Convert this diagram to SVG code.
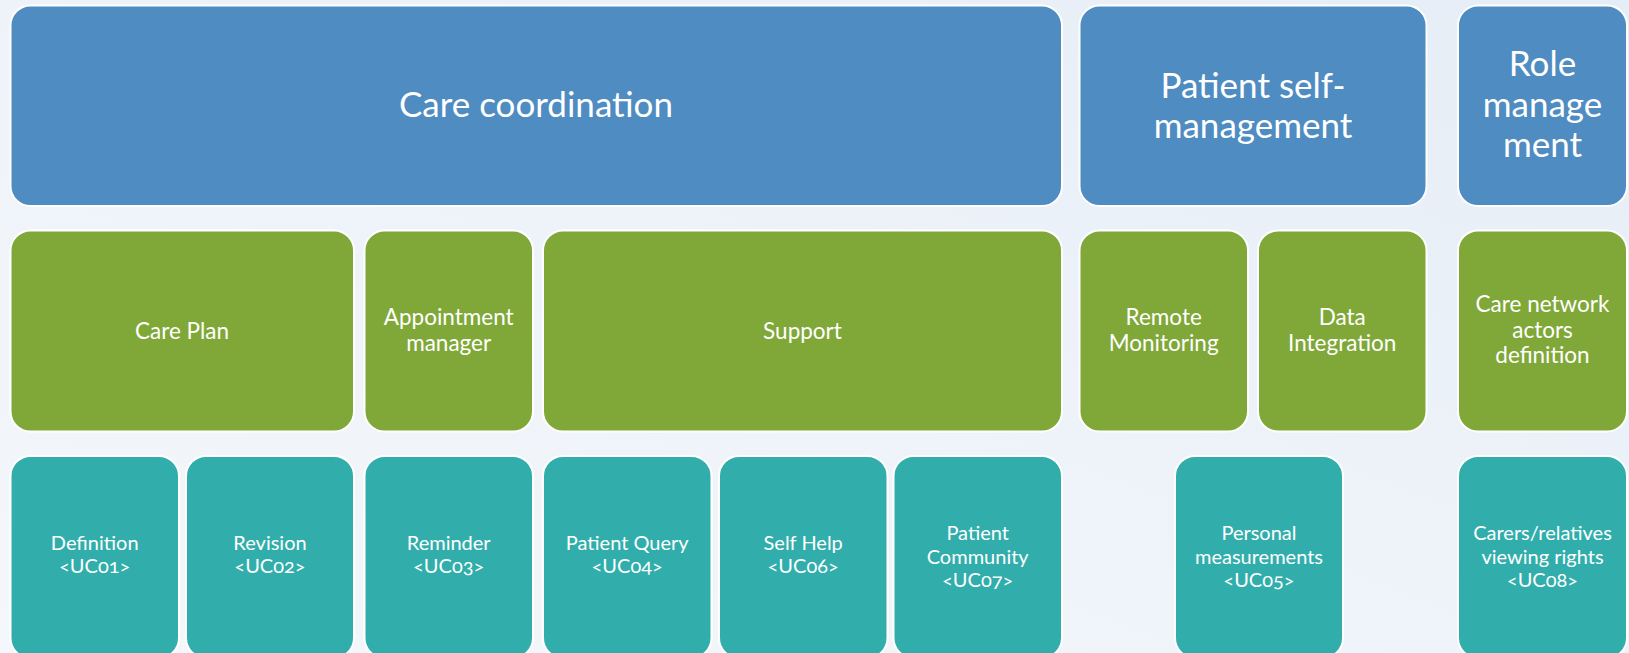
<svg xmlns="http://www.w3.org/2000/svg" width="1629" height="653" viewBox="0 0 1629 653">
<defs>
<linearGradient id="bg" x1="0" y1="1" x2="1" y2="0">
<stop offset="0" stop-color="#f4f7fb"/>
<stop offset="0.5" stop-color="#eef3f9"/>
<stop offset="1" stop-color="#e5edf6"/>
</linearGradient>
<style>
.box{stroke:#ffffff;stroke-width:2}
.blue{fill:#4f8cc1}
.green{fill:#7fa839}
.teal{fill:#31aeab}
text{font-family:Lato,"Open Sans","Liberation Sans",sans-serif;fill:#ffffff;text-anchor:middle;font-variant-numeric:oldstyle-nums}
.t1{font-size:35px}
.t2{font-size:22.5px}
.t3{font-size:20px}
</style>
</defs>
<rect x="0" y="0" width="1629" height="653" fill="url(#bg)"/>

<g id="care-coordination"><rect class="box blue" x="10.5" y="5.5" width="1051.5" height="200.5" rx="20"/><text class="t1" x="536" y="116.5">Care coordination</text></g>
<g id="patient-self-management"><rect class="box blue" x="1079.5" y="5.5" width="347" height="200.5" rx="20"/><text class="t1" x="1253" y="97.5">Patient self-</text><text class="t1" x="1253" y="137.5">management</text></g>
<g id="role-management"><rect class="box blue" x="1458" y="5.5" width="169" height="200.5" rx="20"/><text class="t1" x="1542.5" y="76">Role</text><text class="t1" x="1542.5" y="116.5">manage</text><text class="t1" x="1542.5" y="157">ment</text></g>

<g id="care-plan"><rect class="box green" x="10.5" y="230.5" width="343.5" height="201" rx="20"/><text class="t2" x="182" y="338.5">Care Plan</text></g>
<g id="appointment-manager"><rect class="box green" x="364.5" y="230.5" width="168.5" height="201" rx="20"/><text class="t2" x="448.7" y="325">Appointment</text><text class="t2" x="448.7" y="351">manager</text></g>
<g id="support"><rect class="box green" x="543" y="230.5" width="519" height="201" rx="20"/><text class="t2" x="802.5" y="338.5">Support</text></g>
<g id="remote-monitoring"><rect class="box green" x="1079.5" y="230.5" width="168.5" height="201" rx="20"/><text class="t2" x="1163.7" y="325">Remote</text><text class="t2" x="1163.7" y="351">Monitoring</text></g>
<g id="data-integration"><rect class="box green" x="1258" y="230.5" width="168.5" height="201" rx="20"/><text class="t2" x="1342.2" y="325">Data</text><text class="t2" x="1342.2" y="351">Integration</text></g>
<g id="care-network"><rect class="box green" x="1458" y="230.5" width="169" height="201" rx="20"/><text class="t2" x="1542.5" y="312">Care network</text><text class="t2" x="1542.5" y="337.5">actors</text><text class="t2" x="1542.5" y="363">definition</text></g>

<g id="uc01"><rect class="box teal" x="10.5" y="456" width="168.5" height="202" rx="20"/><text class="t3" x="94.7" y="549.5">Definition</text><text class="t3" x="94.7" y="573">&lt;UC01&gt;</text></g>
<g id="uc02"><rect class="box teal" x="186" y="456" width="168" height="202" rx="20"/><text class="t3" x="270" y="549.5">Revision</text><text class="t3" x="270" y="573">&lt;UC02&gt;</text></g>
<g id="uc03"><rect class="box teal" x="364.5" y="456" width="168.5" height="202" rx="20"/><text class="t3" x="448.7" y="549.5">Reminder</text><text class="t3" x="448.7" y="573">&lt;UC03&gt;</text></g>
<g id="uc04"><rect class="box teal" x="543" y="456" width="168.5" height="202" rx="20"/><text class="t3" x="627.2" y="549.5">Patient Query</text><text class="t3" x="627.2" y="573">&lt;UC04&gt;</text></g>
<g id="uc06"><rect class="box teal" x="719" y="456" width="168.5" height="202" rx="20"/><text class="t3" x="803.2" y="549.5">Self Help</text><text class="t3" x="803.2" y="573">&lt;UC06&gt;</text></g>
<g id="uc07"><rect class="box teal" x="893.5" y="456" width="168.5" height="202" rx="20"/><text class="t3" x="977.7" y="540">Patient</text><text class="t3" x="977.7" y="563.5">Community</text><text class="t3" x="977.7" y="587">&lt;UC07&gt;</text></g>
<g id="uc05"><rect class="box teal" x="1175" y="456" width="168" height="202" rx="20"/><text class="t3" x="1259" y="540">Personal</text><text class="t3" x="1259" y="563.5">measurements</text><text class="t3" x="1259" y="587">&lt;UC05&gt;</text></g>
<g id="uc08"><rect class="box teal" x="1458" y="456" width="169" height="202" rx="20"/><text class="t3" x="1542.5" y="540">Carers/relatives</text><text class="t3" x="1542.5" y="563.5">viewing rights</text><text class="t3" x="1542.5" y="587">&lt;UC08&gt;</text></g>

<g id="connectors"></g>
</svg>
